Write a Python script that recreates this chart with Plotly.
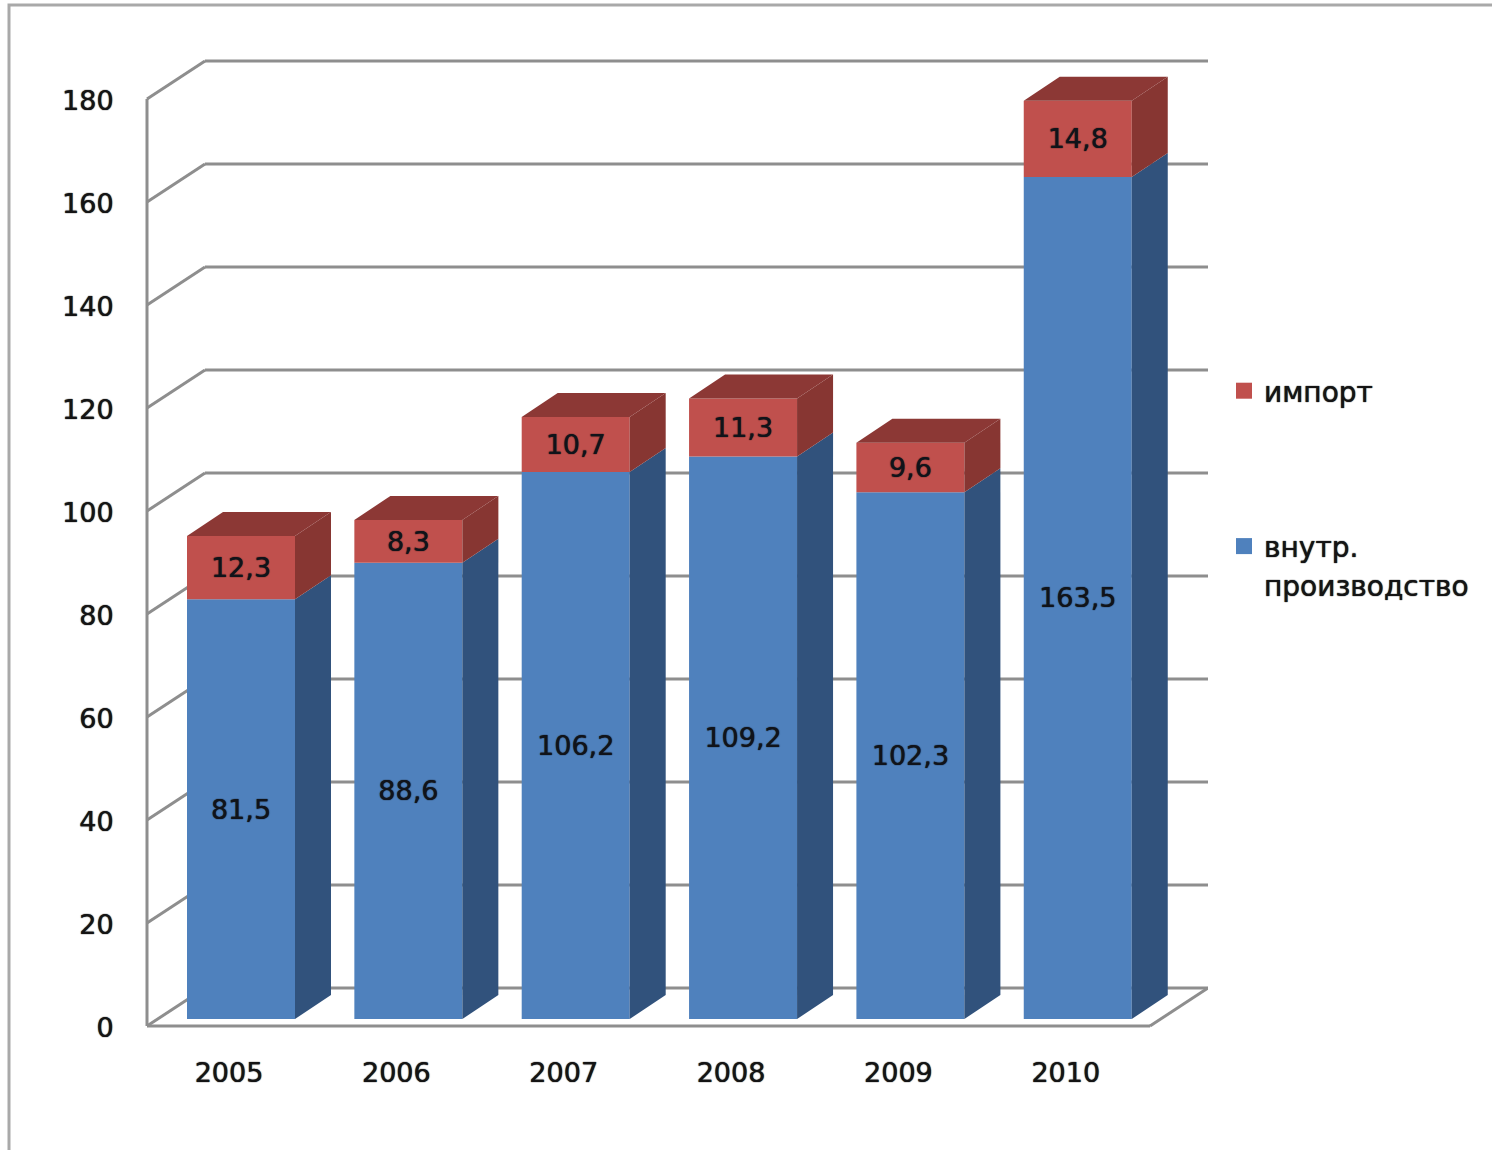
import plotly.graph_objects as go

years = ["2005", "2006", "2007", "2008", "2009", "2010"]
domestic = [81.5, 88.6, 106.2, 109.2, 102.3, 163.5]
imports = [12.3, 8.3, 10.7, 11.3, 9.6, 14.8]
y_ticks = [0, 20, 40, 60, 80, 100, 120, 140, 160, 180]
name_domestic = "внутр."
name_domestic_2 = "производство"
name_imports = "импорт"

W, H = 1492, 1150
WALL_L, R, T, FLOOR = 147, 1208, 40, 1026   # pixel position of the chart box
PAD = 8                                      # room so edge lines are not clipped
Y_PX = 927 / 180            # pixels per value unit
X_MIN, X_MAX = -0.49, 5.85
X_PX = (R - WALL_L) / (X_MAX - X_MIN)
WALL_DX, WALL_DY = 58 / X_PX, 38 / Y_PX
BAR_DX, BAR_DY = 36 / X_PX, 24 / Y_PX
BAR_BASE = 7 / Y_PX
BAR_W = 108 / X_PX
BAR_OFF = -42 / X_PX        # left edge of a bar relative to its tick
FONT = "DejaVu Sans"
INK = "#141414"
SHADOW = "0 0 1px rgba(20,20,20,0.9), 0 0 1px rgba(20,20,20,0.6)"
GRID = "#8e8e8e"
BLUE, BLUE_SIDE = "#4f81bd", "#31527c"
RED, RED_SIDE, RED_TOP = "#c0504d", "#873632", "#8c3835"

L, B = WALL_L - PAD, FLOOR + PAD
idx = list(range(len(years)))
fig = go.Figure()

lows_d = [BAR_BASE] * len(years)
lows_i = [BAR_BASE + d for d in domestic]


def poly(xs, ys, color):
    fig.add_trace(go.Scatter(x=xs, y=ys, mode="lines", fill="toself", fillcolor=color,
                             line=dict(width=0, color=color), showlegend=False, hoverinfo="skip"))


for i, d0, v_d, i0, v_i in zip(idx, lows_d, domestic, lows_i, imports):
    xr = i + BAR_OFF + BAR_W
    xl = i + BAR_OFF
    poly([xr, xr + BAR_DX, xr + BAR_DX, xr, xr],
         [d0, d0 + BAR_DY, d0 + v_d + BAR_DY, d0 + v_d, d0], BLUE_SIDE)
    poly([xr, xr + BAR_DX, xr + BAR_DX, xr, xr],
         [i0, i0 + BAR_DY, i0 + v_i + BAR_DY, i0 + v_i, i0], RED_SIDE)
    top = i0 + v_i
    poly([xl, xl + BAR_DX, xr + BAR_DX, xr, xl],
         [top, top + BAR_DY, top + BAR_DY, top, top], RED_TOP)


def bar(vals, base, color, name):
    fig.add_trace(go.Bar(
        x=idx, y=vals, base=base, width=BAR_W, offset=BAR_OFF, name=name, showlegend=False,
        marker=dict(color=color, line=dict(width=0)),
        text=[f"{v:.1f}".replace(".", ",") for v in vals],
        textposition="inside", insidetextanchor="middle", textangle=0,
        textfont=dict(family=FONT, size=27, color="#10131a", shadow=SHADOW),
        constraintext="none", hoverinfo="skip"))


bar(domestic, lows_d, BLUE, name_domestic)
bar(imports, lows_i, RED, name_imports)


def key(name, color, group, rank):
    fig.add_trace(go.Scatter(x=[None], y=[None], mode="markers", name=name, legendgroup=group,
                             legendrank=rank, hoverinfo="skip",
                             marker=dict(symbol="square", size=18, color=color, line=dict(width=0))))


key(name_imports, RED, "imp", 1)
key(name_domestic, BLUE, "dom", 2)
key(name_domestic_2, "rgba(0,0,0,0)", "dom", 3)

shapes = []
line = dict(color=GRID, width=3)


def seg(x0, y0, x1, y1):
    shapes.append(dict(type="line", xref="x", yref="y", x0=x0, y0=y0, x1=x1, y1=y1,
                       line=line, layer="below"))


for t in y_ticks:
    seg(X_MIN, t, X_MIN + WALL_DX, t + WALL_DY)
    seg(X_MIN + WALL_DX, t + WALL_DY, X_MAX, t + WALL_DY)
seg(X_MIN, 0, X_MIN, y_ticks[-1])
seg(X_MIN, 0, X_MAX - WALL_DX, 0)
seg(X_MAX - WALL_DX, 0, X_MAX, WALL_DY)


def px(x):
    return (x - L) / (R - L)


def py(y):
    return (B - y) / (B - T)


# screenshot frame along the left and top edges
shapes.append(dict(type="path", xref="paper", yref="paper",
                   path=f"M {px(9)} {py(1150)} L {px(9)} {py(5)} L {px(1492)} {py(5)}",
                   line=dict(color="#a9a9a9", width=3), layer="below"))

tick_font = dict(family=FONT, size=27, color=INK, shadow=SHADOW)
fig.update_layout(
    width=W, height=H, margin=dict(l=L, r=W - R, t=T, b=H - B, pad=0),
    paper_bgcolor="white", plot_bgcolor="white", barmode="overlay",
    font=dict(family=FONT, size=27, color=INK),
    shapes=shapes, showlegend=True,
    xaxis=dict(range=[X_MIN - PAD / X_PX, X_MAX], tickmode="array", tickvals=idx, ticktext=years,
               showgrid=False, zeroline=False, showline=False, ticks="outside", ticklen=15,
               tickcolor="rgba(0,0,0,0)", tickfont=tick_font),
    yaxis=dict(range=[-PAD / Y_PX, (FLOOR - T) / Y_PX], tickmode="array", tickvals=y_ticks,
               showgrid=False, zeroline=False, showline=False, ticks="outside", ticklen=19,
               ticklabelshift=2, tickcolor="rgba(0,0,0,0)", tickfont=tick_font),
    legend=dict(x=px(1224), y=py(366), xanchor="left", yanchor="top", traceorder="grouped",
                tracegroupgap=116, font=dict(family=FONT, size=28, color=INK, shadow=SHADOW),
                bgcolor="rgba(0,0,0,0)", itemclick=False, itemdoubleclick=False),
)

fig.write_html("out.html", post_script="document.body.style.margin='0';document.documentElement.style.overflow='hidden';",
               config=dict(displayModeBar=False))
